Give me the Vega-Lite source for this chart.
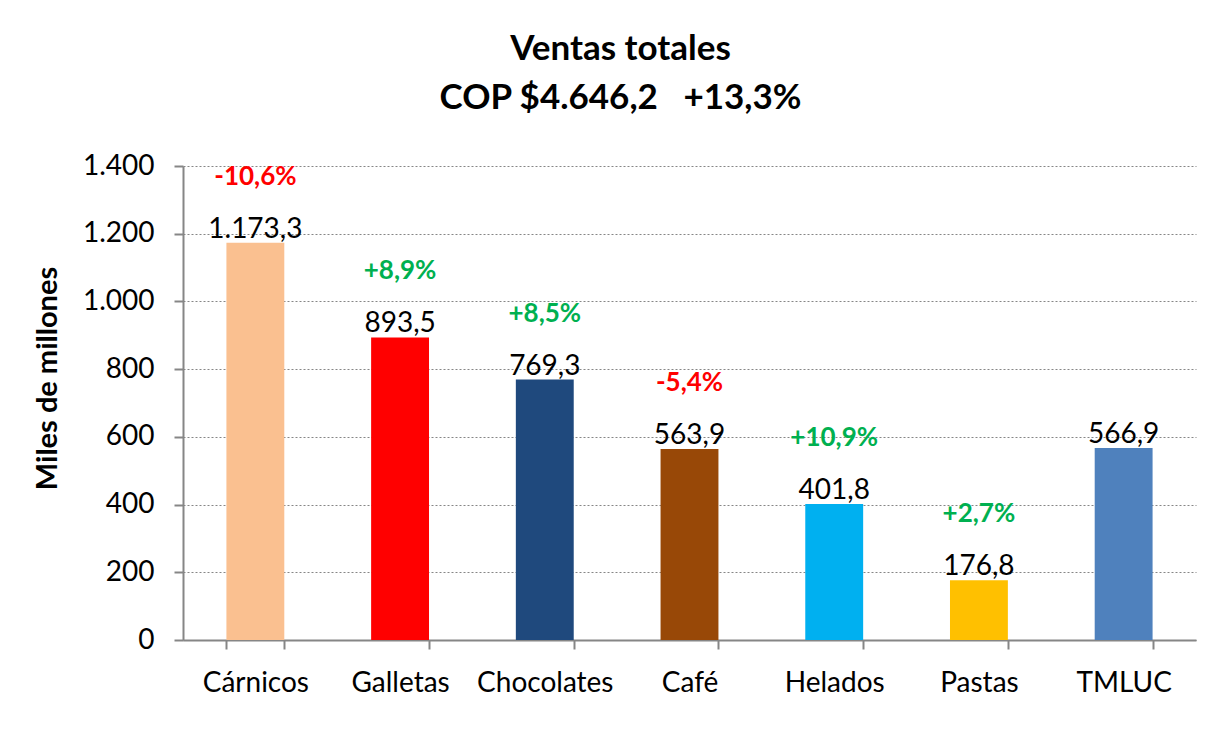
{
  "$schema": "https://vega.github.io/schema/vega-lite/v6.json",
  "width": 1013,
  "height": 474,
  "autosize": {"type": "none"},
  "padding": {"left": 183, "top": 166, "right": 30, "bottom": 108},
  "background": "white",
  "config": {
    "locale": {"number": {"decimal": ",", "thousands": ".", "grouping": [3], "currency": ["$", ""]}},
    "font": "Lato",
    "view": {"stroke": null}
  },
  "title": {
    "text": ["Ventas totales", "COP $4.646,2\u00a0\u00a0\u00a0+13,3%"],
    "fontSize": 35,
    "fontWeight": "bold",
    "font": "Lato",
    "color": "black",
    "lineHeight": 49,
    "anchor": "middle",
    "frame": "group",
    "dx": -69,
    "offset": 36
  },
  "data": {
    "values": [
      {"categoria": "Cárnicos", "ventas": 1173.3, "variacion": "-10,6%", "tendencia": "baja"},
      {"categoria": "Galletas", "ventas": 893.5, "variacion": "+8,9%", "tendencia": "sube"},
      {"categoria": "Chocolates", "ventas": 769.3, "variacion": "+8,5%", "tendencia": "sube"},
      {"categoria": "Café", "ventas": 563.9, "variacion": "-5,4%", "tendencia": "baja"},
      {"categoria": "Helados", "ventas": 401.8, "variacion": "+10,9%", "tendencia": "sube"},
      {"categoria": "Pastas", "ventas": 176.8, "variacion": "+2,7%", "tendencia": "sube"},
      {"categoria": "TMLUC", "ventas": 566.9, "variacion": "", "tendencia": "sube"}
    ]
  },
  "encoding": {
    "x": {
      "field": "categoria",
      "type": "nominal",
      "sort": null,
      "scale": {"paddingInner": 0.6, "paddingOuter": 0.3},
      "axis": {
        "title": null,
        "labelAngle": 0,
        "labelFontSize": 28,
        "labelColor": "black",
        "labelPadding": 20,
        "tickBand": "extent",
        "tickSize": 9,
        "tickColor": "#868686",
        "tickWidth": 2,
        "domainColor": "#868686",
        "domainWidth": 2,
        "grid": false
      }
    },
    "y": {
      "field": "ventas",
      "type": "quantitative",
      "scale": {"domain": [0, 1400], "nice": false},
      "axis": {
        "title": "Miles de millones",
        "titleFontSize": 29,
        "titleFontWeight": "bold",
        "titleColor": "black",
        "titleX": -136,
        "titleY": 212,
        "titleAlign": "center",
        "titleBaseline": "middle",
        "values": [0, 200, 400, 600, 800, 1000, 1200, 1400],
        "format": ",.0f",
        "labelFontSize": 28,
        "labelColor": "black",
        "labelPadding": 20,
        "tickSize": 9,
        "tickColor": "#868686",
        "tickWidth": 2,
        "domainColor": "#868686",
        "domainWidth": 2,
        "grid": true,
        "gridColor": "#868686",
        "gridDash": [2, 2],
        "gridWidth": 1
      }
    }
  },
  "layer": [
    {
      "mark": {"type": "bar"},
      "encoding": {
        "color": {
          "field": "categoria",
          "type": "nominal",
          "sort": null,
          "scale": {
            "domain": ["Cárnicos", "Galletas", "Chocolates", "Café", "Helados", "Pastas", "TMLUC"],
            "range": ["#FAC090", "#FF0000", "#1F497D", "#984807", "#00B0F0", "#FFC000", "#4F81BD"]
          },
          "legend": null
        }
      }
    },
    {
      "mark": {"type": "text", "fontSize": 28, "color": "black", "baseline": "alphabetic", "dy": -5},
      "encoding": {
        "text": {"field": "ventas", "type": "quantitative", "format": ",.1f"}
      }
    },
    {
      "mark": {"type": "text", "fontSize": 26, "fontWeight": "bold", "baseline": "alphabetic", "dy": -58},
      "encoding": {
        "text": {"field": "variacion", "type": "nominal"},
        "color": {
          "field": "tendencia",
          "type": "nominal",
          "scale": {"domain": ["sube", "baja"], "range": ["#00B050", "#FF0000"]},
          "legend": null
        }
      }
    }
  ],
  "resolve": {"scale": {"color": "independent"}}
}
